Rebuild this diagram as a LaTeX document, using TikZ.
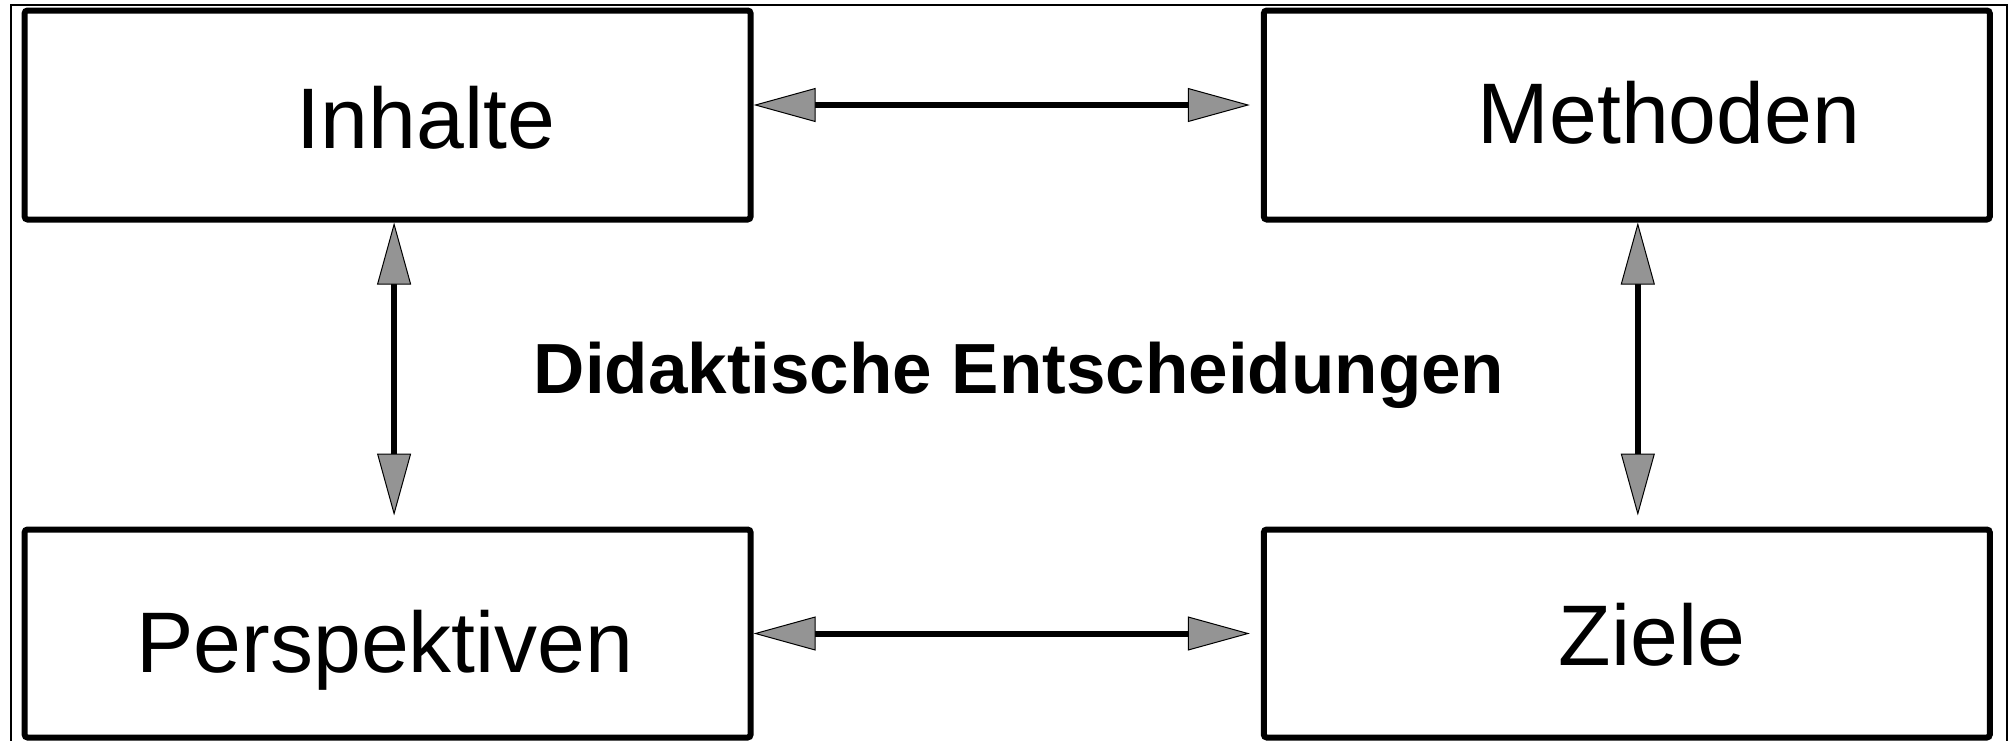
\documentclass[tikz,border=0pt]{standalone}
\usepackage{fontspec}
\setmainfont{Liberation Sans}
\usetikzlibrary{arrows.meta}
\tikzset{
  box/.style={draw, line width=6pt, rounded corners=3pt, minimum width=726pt, minimum height=209pt, inner sep=0pt},
  lbl/.style={anchor=base, inner sep=0pt, font=\fontsize{86}{100}\selectfont},
  ttl/.style={anchor=base, inner sep=0pt, font=\fontsize{71}{85}\selectfont\bfseries},
  tip/.tip={Triangle[length=62pt, width=34pt, fill=black!42, line width=1pt]},
  dbl/.style={line width=6pt, tip-tip, shorten >=11pt},
  frame/.style={line width=2pt}
}
\begin{document}
\begin{tikzpicture}[x=1pt, y=-1pt]
\useasboundingbox (0,0) rectangle (2013,740);
\draw[frame] (11,745) -- (11,5) -- (2007,5) -- (2007,745);
\node[box] (inh) at (387.6,115) {};
\node[box] (meth) at (1626.8,115) {};
\node[box, minimum height=208pt] (persp) at (387.6,633.5) {};
\node[box, minimum height=208pt] (ziele) at (1626.8,633.5) {};
\node[lbl] (tinh) at (426,148) {Inhalte};
\node[lbl] (tmeth) at (1669,143) {Methoden};
\node[lbl] (tpersp) at (385,672) {Perspektiven};
\node[lbl] (tziele) at (1652,665) {Ziele};
\node[ttl] (title) at (1019,393) {Didaktische Entscheidungen};
\draw[dbl] ([yshift=10pt]inh.east) -- ([yshift=10pt]meth.west);
\draw[dbl] (persp.east) -- (ziele.west);
\draw[dbl] ([xshift=6.5pt]inh.south) -- ([xshift=6.5pt]persp.north);
\draw[dbl] ([xshift=11pt]meth.south) -- ([xshift=11pt]ziele.north);
\end{tikzpicture}
\end{document}
